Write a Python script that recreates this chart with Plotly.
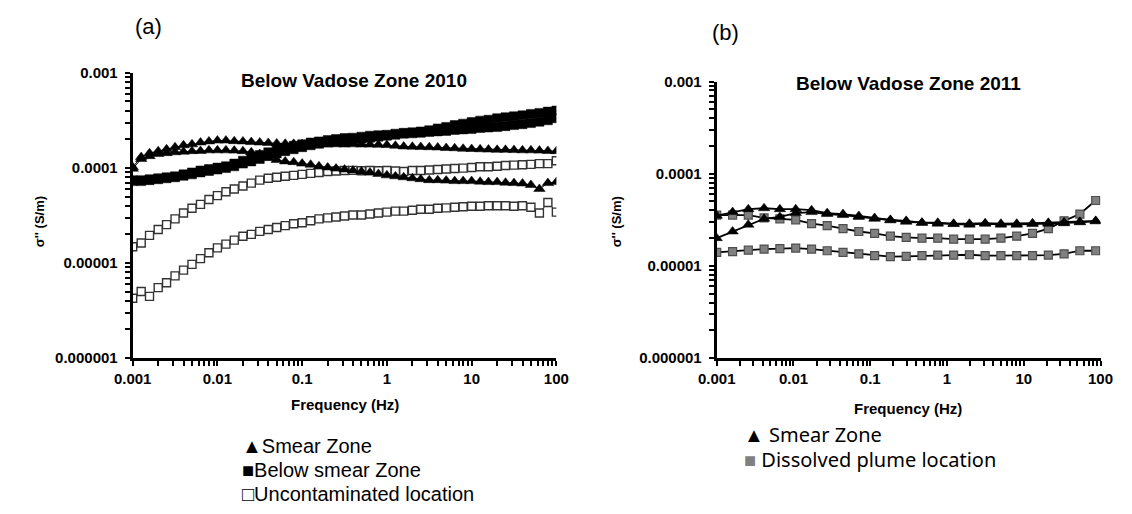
import plotly.graph_objects as go

# ---------------- data ----------------
# (a) Below Vadose Zone 2010: ten frequencies per decade
freq_2010 = [0.001, 0.00126, 0.00158, 0.002, 0.00251, 0.00316, 0.00398, 0.00501, 0.00631, 0.00794,
             0.01, 0.0126, 0.0158, 0.02, 0.0251, 0.0316, 0.0398, 0.0501, 0.0631, 0.0794,
             0.1, 0.126, 0.158, 0.2, 0.251, 0.316, 0.398, 0.501, 0.631, 0.794,
             1, 1.26, 1.58, 2, 2.51, 3.16, 3.98, 5.01, 6.31, 7.94,
             10, 12.6, 15.8, 20, 25.1, 31.6, 39.8, 50.1, 63.1, 79.4, 100]

smear_2010_a = [1.02e-4, 1.30e-4, 1.43e-4, 1.50e-4, 1.57e-4, 1.65e-4, 1.73e-4, 1.77e-4, 1.85e-4, 1.90e-4,
                1.94e-4, 1.94e-4, 1.91e-4, 1.90e-4, 1.87e-4, 1.85e-4, 1.83e-4, 1.81e-4, 1.80e-4, 1.79e-4,
                1.78e-4, 1.77e-4, 1.78e-4, 1.77e-4, 1.77e-4, 1.76e-4, 1.77e-4, 1.76e-4, 1.76e-4, 1.75e-4,
                1.74e-4, 1.71e-4, 1.68e-4, 1.67e-4, 1.66e-4, 1.65e-4, 1.64e-4, 1.62e-4, 1.61e-4, 1.59e-4,
                1.58e-4, 1.57e-4, 1.56e-4, 1.55e-4, 1.55e-4, 1.54e-4, 1.53e-4, 1.53e-4, 1.52e-4, 1.51e-4, 1.50e-4]
smear_2010_b = [9.8e-5, 1.24e-4, 1.33e-4, 1.40e-4, 1.43e-4, 1.46e-4, 1.48e-4, 1.50e-4, 1.51e-4, 1.53e-4,
                1.53e-4, 1.53e-4, 1.52e-4, 1.50e-4, 1.46e-4, 1.40e-4, 1.30e-4, 1.21e-4, 1.17e-4, 1.15e-4,
                1.11e-4, 1.08e-4, 1.04e-4, 1.01e-4, 9.84e-5, 9.61e-5, 9.39e-5, 9.17e-5, 8.96e-5, 8.65e-5,
                8.35e-5, 8.16e-5, 7.97e-5, 7.78e-5, 7.60e-5, 7.43e-5, 7.43e-5, 7.35e-5, 7.26e-5, 7.26e-5,
                7.26e-5, 7.17e-5, 7.09e-5, 7.09e-5, 7.00e-5, 6.92e-5, 6.85e-5, 6.61e-5, 6.01e-5, 6.92e-5, 7.09e-5]
below_smear_a = [7.43e-5, 7.43e-5, 7.60e-5, 7.78e-5, 7.97e-5, 8.16e-5, 8.55e-5, 8.96e-5, 9.39e-5, 9.72e-5,
                 1.007e-4, 1.04e-4, 1.11e-4, 1.19e-4, 1.27e-4, 1.37e-4, 1.46e-4, 1.53e-4, 1.63e-4, 1.71e-4,
                 1.77e-4, 1.85e-4, 1.90e-4, 1.96e-4, 2.01e-4, 2.06e-4, 2.08e-4, 2.13e-4, 2.18e-4, 2.21e-4,
                 2.23e-4, 2.29e-4, 2.34e-4, 2.37e-4, 2.42e-4, 2.49e-4, 2.60e-4, 2.70e-4, 2.82e-4, 2.92e-4,
                 3.03e-4, 3.14e-4, 3.21e-4, 3.33e-4, 3.41e-4, 3.49e-4, 3.57e-4, 3.70e-4, 3.79e-4, 3.91e-4, 4.01e-4]
below_smear_b = [7.26e-5, 7.26e-5, 7.43e-5, 7.60e-5, 7.78e-5, 7.97e-5, 8.25e-5, 8.55e-5, 8.96e-5, 9.28e-5,
                 9.61e-5, 9.95e-5, 1.04e-4, 1.11e-4, 1.17e-4, 1.24e-4, 1.33e-4, 1.42e-4, 1.50e-4, 1.57e-4,
                 1.65e-4, 1.73e-4, 1.79e-4, 1.85e-4, 1.90e-4, 1.94e-4, 1.99e-4, 2.03e-4, 2.08e-4, 2.13e-4,
                 2.18e-4, 2.23e-4, 2.29e-4, 2.31e-4, 2.34e-4, 2.39e-4, 2.42e-4, 2.45e-4, 2.51e-4, 2.54e-4,
                 2.57e-4, 2.63e-4, 2.66e-4, 2.69e-4, 2.75e-4, 2.82e-4, 2.88e-4, 2.96e-4, 3.06e-4, 3.17e-4, 3.33e-4]
uncontam_a = [1.48e-5, 1.62e-5, 1.95e-5, 2.25e-5, 2.53e-5, 2.91e-5, 3.35e-5, 3.77e-5, 4.13e-5, 4.65e-5,
              5.11e-5, 5.61e-5, 6.01e-5, 6.45e-5, 6.92e-5, 7.43e-5, 7.78e-5, 7.97e-5, 8.16e-5, 8.35e-5,
              8.55e-5, 8.75e-5, 8.96e-5, 9.17e-5, 9.28e-5, 9.39e-5, 9.42e-5, 9.33e-5, 9.39e-5, 9.35e-5,
              9.40e-5, 9.28e-5, 9.17e-5, 9.39e-5, 9.39e-5, 9.50e-5, 9.61e-5, 9.72e-5, 9.84e-5, 9.95e-5,
              1.01e-4, 1.03e-4, 1.03e-4, 1.04e-4, 1.06e-4, 1.07e-4, 1.08e-4, 1.09e-4, 1.11e-4, 1.11e-4, 1.19e-4]
uncontam_b = [4.26e-6, 5.02e-6, 4.45e-6, 5.51e-6, 6.20e-6, 7.31e-6, 8.41e-6, 9.67e-6, 1.11e-5, 1.28e-5,
              1.44e-5, 1.58e-5, 1.74e-5, 1.91e-5, 2.00e-5, 2.15e-5, 2.25e-5, 2.36e-5, 2.47e-5, 2.59e-5,
              2.65e-5, 2.78e-5, 2.91e-5, 2.98e-5, 3.05e-5, 3.12e-5, 3.20e-5, 3.20e-5, 3.27e-5, 3.35e-5,
              3.43e-5, 3.51e-5, 3.51e-5, 3.59e-5, 3.68e-5, 3.68e-5, 3.77e-5, 3.80e-5, 3.85e-5, 3.90e-5,
              3.95e-5, 3.95e-5, 4.00e-5, 4.00e-5, 4.00e-5, 3.95e-5, 4.00e-5, 3.85e-5, 3.35e-5, 4.33e-5, 3.43e-5]

# (b) Below Vadose Zone 2011
freq_2011 = [0.001, 0.00161, 0.00258, 0.00414, 0.00665, 0.0107, 0.0172, 0.0275, 0.0442, 0.0710,
             0.114, 0.183, 0.294, 0.472, 0.758, 1.22, 1.96, 3.14, 5.04, 8.10,
             13.0, 20.9, 33.5, 53.8, 86.5]
smear_2011_a = [3.50e-5, 3.83e-5, 4.12e-5, 4.22e-5, 4.12e-5, 4.12e-5, 4.02e-5, 3.74e-5, 3.65e-5, 3.48e-5,
                3.31e-5, 3.16e-5, 3.08e-5, 2.94e-5, 2.94e-5, 2.87e-5, 2.87e-5, 2.90e-5, 2.87e-5, 2.87e-5,
                2.90e-5, 2.94e-5, 2.97e-5, 3.01e-5, 3.08e-5]
smear_2011_b = [2.00e-5, 2.36e-5, 2.80e-5, 3.24e-5, 3.40e-5, 3.74e-5, 3.83e-5, 3.65e-5, 3.56e-5, 3.40e-5,
                3.24e-5, 3.12e-5, 3.01e-5, 2.94e-5, 2.87e-5, 2.84e-5, 2.80e-5, 2.87e-5, 2.80e-5, 2.80e-5,
                2.84e-5, 2.87e-5, 2.90e-5, 2.97e-5, 3.04e-5]
plume_2011_a = [3.56e-5, 3.56e-5, 3.56e-5, 3.31e-5, 3.24e-5, 3.16e-5, 2.87e-5, 2.73e-5, 2.54e-5, 2.36e-5,
                2.25e-5, 2.10e-5, 2.04e-5, 2.00e-5, 2.00e-5, 1.95e-5, 1.95e-5, 1.95e-5, 2.00e-5, 2.10e-5,
                2.25e-5, 2.54e-5, 3.08e-5, 3.65e-5, 5.12e-5]
plume_2011_b = [1.40e-5, 1.43e-5, 1.48e-5, 1.52e-5, 1.54e-5, 1.56e-5, 1.52e-5, 1.46e-5, 1.40e-5, 1.35e-5,
                1.29e-5, 1.26e-5, 1.27e-5, 1.29e-5, 1.31e-5, 1.31e-5, 1.32e-5, 1.29e-5, 1.29e-5, 1.29e-5,
                1.29e-5, 1.31e-5, 1.35e-5, 1.46e-5, 1.46e-5]

x_tickvals = [0.001, 0.01, 0.1, 1, 10, 100]
x_ticktext = ["0.001", "0.01", "0.1", "1", "10", "100"]
y_tickvals = [1e-6, 1e-5, 1e-4, 1e-3]
y_ticktext = ["0.000001", "0.00001", "0.0001", "0.001"]

legend_2010 = ["Smear Zone", "Below smear Zone", "Uncontaminated location"]
legend_2011 = ["Smear Zone", "Dissolved plume location"]

# ---------------- figure ----------------
W, H = 1132, 514
ARIAL = "Liberation Sans, Arial, sans-serif"
SANS = "Noto Sans, Open Sans, sans-serif"

fig = go.Figure()

tri_a = dict(symbol="triangle-up", size=10, color="black", line=dict(color="black", width=0.5))
sq_fill_a = dict(symbol="square", size=9, color="black", line=dict(color="black", width=0.5))
sq_open_a = dict(symbol="square", size=8, color="white", line=dict(color="#333333", width=1.4))

for ys, mk in [(uncontam_b, sq_open_a), (uncontam_a, sq_open_a),
               (smear_2010_b, tri_a), (smear_2010_a, tri_a),
               (below_smear_b, sq_fill_a), (below_smear_a, sq_fill_a)]:
    fig.add_trace(go.Scatter(x=freq_2010, y=ys, mode="lines+markers", marker=mk,
                             line=dict(color="black", width=1), showlegend=False,
                             xaxis="x", yaxis="y"))

tri_b = dict(symbol="triangle-up", size=10, color="black", line=dict(color="black", width=0.5))
sq_b = dict(symbol="square", size=8, color="#808080", line=dict(color="#4d4d4d", width=1.2))

for ys, mk in [(plume_2011_b, sq_b), (plume_2011_a, sq_b),
               (smear_2011_b, tri_b), (smear_2011_a, tri_b)]:
    fig.add_trace(go.Scatter(x=freq_2011, y=ys, mode="lines+markers", marker=mk,
                             line=dict(color="black", width=1.8), showlegend=False,
                             xaxis="x2", yaxis="y2"))


def minor_vals(lo, hi):
    vals = []
    for e in range(lo, hi):
        for m in range(2, 10):
            vals.append(m * 10.0 ** e)
    return vals


tickfont = dict(family=ARIAL, size=15, color="black", weight="bold")


def x_axis(domain, anchor):
    return dict(type="log", range=[-3, 2], domain=domain, anchor=anchor,
                tickmode="array", tickvals=x_tickvals, ticktext=x_ticktext,
                ticks="outside", ticklen=5, tickwidth=2, tickcolor="black",
                minor=dict(tickmode="array", tickvals=minor_vals(-3, 2), ticks="outside",
                           ticklen=5, tickwidth=2, tickcolor="black", showgrid=False),
                showline=True, linewidth=3, linecolor="black", showgrid=False,
                zeroline=False, tickfont=tickfont)


def y_axis(domain, anchor):
    return dict(type="log", range=[-6, -3], domain=domain, anchor=anchor,
                tickmode="array", tickvals=y_tickvals, ticktext=y_ticktext,
                ticks="outside", ticklen=5, tickwidth=2, tickcolor="black",
                minor=dict(tickmode="array", tickvals=minor_vals(-6, -3), ticks="outside",
                           ticklen=5, tickwidth=2, tickcolor="black", showgrid=False),
                showline=True, linewidth=3, linecolor="black", showgrid=False,
                zeroline=False, tickfont=tickfont, ticklabelstandoff=4)


def px(x):
    return x / W


def py(y):
    return 1 - y / H


fig.update_layout(
    width=W, height=H, margin=dict(l=0, r=0, t=0, b=0),
    paper_bgcolor="white", plot_bgcolor="white",
    xaxis=x_axis([px(117), px(553)], "y"),
    yaxis=y_axis([py(361), py(66)], "x"),
    xaxis2=x_axis([px(718), px(1113)], "y2"),
    yaxis2=y_axis([py(361), py(75)], "x2"),
    showlegend=False,
)

ann = []


def text(x, y, s, size, family=ARIAL, bold=False, angle=0, xanchor="center", align="center"):
    ann.append(dict(x=px(x), y=py(y), xref="paper", yref="paper", text=s, showarrow=False,
                    xanchor=xanchor, yanchor="middle", textangle=angle, borderpad=0,
                    align=align,
                    font=dict(family=family, size=size, color="black",
                              weight="bold" if bold else "normal")))


text(133, 18, "(a)", 22)
text(727, 24, "(b)", 22)
text(345, 74, "Below Vadose Zone 2010", 19, bold=True)
text(915, 77, "Below Vadose Zone 2011", 19, bold=True)
text(21, 220, "σ'' (S/m)", 13, bold=True, angle=-90)
text(615, 220, "σ'' (S/m)", 13, bold=True, angle=-90)
text(335, 409, "Frequency (Hz)", 15, bold=True)
text(915, 413, "Frequency (Hz)", 15, bold=True)


def span(s, size, color="black"):
    return '<span style="font-size:%dpx;color:%s">%s</span>' % (size, color, s)


# legend blocks: base font sets the line pitch, spans set the glyph/text size
rows_a = [span("▲", 20) + span(legend_2010[0], 20),
          span("■", 20) + span(legend_2010[1], 20),
          span("□", 20) + span(legend_2010[2], 20)]
text(228, 477, "<br>".join(rows_a), 18.5, xanchor="left", align="left")

rows_b = [span("▲", 20) + span(" " + legend_2011[0], 20),
          span("■", 20, "#808080") + span(" " + legend_2011[1], 20)]
text(745, 453, "<br>".join(rows_b), 19.5, family=SANS, xanchor="left", align="left")

fig.update_layout(annotations=ann)
fig.write_html("out.html")
